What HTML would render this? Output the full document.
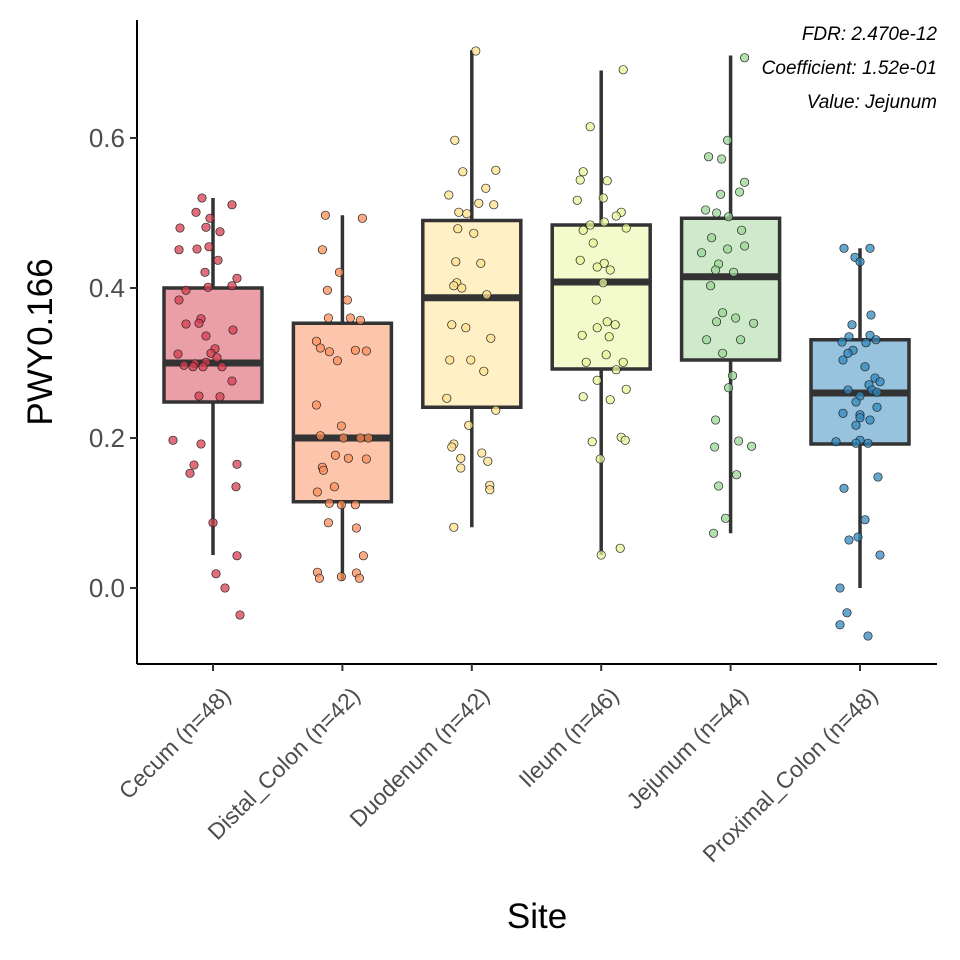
<!DOCTYPE html>
<html><head><meta charset="utf-8"><style>
body{margin:0;background:#fff}
svg{display:block;font-family:"Liberation Sans",sans-serif}
</style></head><body>
<svg id="chart" width="960" height="960">
</svg>
<script>
const categories=["Cecum (n=48)","Distal_Colon (n=42)","Duodenum (n=42)","Ileum (n=46)","Jejunum (n=44)","Proximal_Colon (n=48)"];
const q1=[0.248,0.115,0.241,0.292,0.304,0.192];
const median=[0.300,0.200,0.387,0.408,0.415,0.260];
const q3=[0.400,0.353,0.490,0.484,0.493,0.331];
const whiskerLow=[0.044,0.010,0.081,0.044,0.073,0.000];
const whiskerHigh=[0.520,0.497,0.717,0.690,0.710,0.453];
const yTicks=[0,0.2,0.4,0.6];
const yTickLabels=["0.0","0.2","0.4","0.6"];
const fills=["#ea9ea7","#fdc5ab","#fff0c5","#f3facb","#cfeacb","#98c3df"];
const pointColors=["#d53e4f","#fc8d59","#fee08b","#e6f598","#99d594","#3288bd"];
const ptsCecum=[0.52,0.511,0.501,0.493,0.481,0.475,0.48,0.455,0.452,0.451,0.437,0.421,0.413,0.403,0.401,0.397,0.384,0.359,0.352,0.353,0.344,0.336,0.319,0.313,0.307,0.312,0.301,0.299,0.297,0.295,0.295,0.295,0.276,0.255,0.256,0.197,0.192,0.165,0.164,0.153,0.135,0.087,0.043,0.019,0.0,-0.036];
const jitCecum=[-11,19,-17,-3,-7,7,-33,-4,-16,-34,5,-8,24,19,-5,-27,-34,-12,-27,-14,20,-7,2,-2,4,-35,-7,-18,-29,9,-20,-10,19,7,-14,-40,-12,24,-19,-23,23,0,24,3,12,27,-4];
const ptsDistal=[0.497,0.493,0.451,0.421,0.397,0.384,0.36,0.36,0.357,0.329,0.32,0.317,0.316,0.315,0.303,0.244,0.216,0.203,0.2,0.2,0.2,0.177,0.173,0.172,0.161,0.157,0.135,0.128,0.113,0.111,0.111,0.087,0.08,0.043,0.021,0.02,0.015,0.013,0.013];
const jitDistal=[-17,20,-20,-3,-15,5,-14,8,18,-26,-22,13,24,-13,-5,-26,-1,-22,1,18,26,-7,6,24,-20,-19,-8,-25,-13,-1,13,-14,14,21,-25,14,-1,-23,17];
const ptsDuod=[0.716,0.597,0.557,0.555,0.524,0.533,0.501,0.499,0.513,0.511,0.479,0.473,0.435,0.433,0.407,0.403,0.4,0.391,0.351,0.347,0.333,0.304,0.304,0.289,0.253,0.237,0.192,0.188,0.18,0.173,0.169,0.16,0.137,0.131,0.081,0.217];
const jitDuod=[4,-17,24,-9,-23,14,-13,-5,7,22,-14,2,-16,9,-15,-18,-10,15,-20,-6,19,-22,-1,12,-25,24,-18,-20,10,-11,16,-11,18,18,-18,-3];
const ptsIleum=[0.691,0.615,0.555,0.544,0.543,0.517,0.52,0.501,0.496,0.488,0.484,0.477,0.48,0.46,0.437,0.433,0.428,0.424,0.407,0.384,0.351,0.355,0.347,0.337,0.335,0.311,0.301,0.301,0.291,0.277,0.265,0.255,0.251,0.195,0.201,0.197,0.172,0.044,0.053];
const jitIleum=[22,-11,-18,-21,6,-24,2,20,15,3,-11,-18,25,-8,-21,3,-4,9,2,-5,14,6,-4,-19,8,5,-15,22,15,-4,25,-18,9,-9,20,24,-1,0,19];
const ptsJej=[0.707,0.597,0.575,0.572,0.541,0.525,0.528,0.504,0.5,0.495,0.477,0.467,0.456,0.452,0.447,0.432,0.421,0.424,0.403,0.367,0.36,0.355,0.353,0.331,0.331,0.313,0.283,0.267,0.224,0.196,0.188,0.189,0.151,0.136,0.093,0.073];
const jitJej=[14,-3,-22,-9,14,-10,9,-25,-14,-2,11,-19,14,-3,-29,-12,3,-15,-20,-8,5,-14,23,-24,10,-8,2,-2,-15,8,-16,21,6,-12,-5,-17];
const ptsProx=[0.453,0.453,0.441,0.435,0.364,0.351,0.337,0.331,0.335,0.328,0.327,0.317,0.313,0.304,0.295,0.28,0.275,0.271,0.264,0.261,0.264,0.256,0.248,0.241,0.233,0.231,0.227,0.224,0.217,0.197,0.195,0.193,0.193,0.148,0.133,0.064,0.068,0.091,0.044,0.0,-0.033,-0.049,-0.064];
const jitProx=[-16,10,-5,0,11,-8,10,16,-11,-18,6,-7,-12,-17,5,15,20,9,12,17,-12,0,-4,17,-17,0,0,10,-4,0,-24,8,-4,18,-16,-11,-2,5,20,-20,-13,-20,8];
const points=[ptsCecum,ptsDistal,ptsDuod,ptsIleum,ptsJej,ptsProx];
const jitter=[jitCecum,jitDistal,jitDuod,jitIleum,jitJej,jitProx];

const NS="http://www.w3.org/2000/svg";
const svg=document.getElementById("chart");
const L=137,R=937,T=20,B=664;
const y=v=>588-750*v;
const x=i=>213+i*129.4;
const BW=98;
function mk(tag,attrs,parent){const e=document.createElementNS(NS,tag);for(const k in attrs)e.setAttribute(k,attrs[k]);(parent||svg).appendChild(e);return e;}

for(let i=0;i<categories.length;i++){
  const g=mk("g",{});
  
  
  const cx=x(i);
  const w=mk("line",{x1:cx,x2:cx,y1:y(whiskerLow[i]),y2:y(whiskerHigh[i]),stroke:"#333",'stroke-width':3.5},g);
  
  
  const r=mk("rect",{x:cx-BW/2,y:y(q3[i]),width:BW,height:y(q1[i])-y(q3[i]),fill:fills[i],stroke:"#333",'stroke-width':3.5},g);
  
  
  const m=mk("line",{x1:cx-BW/2,x2:cx+BW/2,y1:y(median[i]),y2:y(median[i]),stroke:"#333",'stroke-width':7},g);
  
  
  points[i].forEach((v,j)=>{
    const c=mk("circle",{cx:cx+jitter[i][j],cy:y(v),r:4.2,fill:pointColors[i],'fill-opacity':0.75,stroke:"#222",'stroke-width':0.7},g);
    
    
  });
}
// axes
const ax=mk("line",{x1:L,x2:L,y1:T,y2:B,stroke:"#000",'stroke-width':2});


const xa=mk("line",{x1:L,x2:R,y1:B,y2:B,stroke:"#000",'stroke-width':2});


yTicks.forEach((v,i)=>{
  const t=mk("line",{x1:L-7,x2:L,y1:y(v),y2:y(v),stroke:"#333",'stroke-width':2});
  
  
  const l=mk("text",{x:L-12,y:y(v)+9,'text-anchor':'end','font-size':26,fill:"#4d4d4d"});
  l.textContent=yTickLabels[i];
  
  
});
categories.forEach((c,i)=>{
  const t=mk("line",{x1:x(i),x2:x(i),y1:B,y2:B+7,stroke:"#333",'stroke-width':2});
  
  
  const ox=x(i)+19, oy=B+33;
  const l=mk("text",{x:ox,y:oy,'text-anchor':'end','font-size':23,fill:"#4d4d4d",transform:`rotate(-45 ${ox} ${oy})`});
  l.textContent=c;
  
  
});
const yt=mk("text",{x:52,y:342,'text-anchor':'middle','font-size':35,fill:"#000",transform:"rotate(-90 52 342)"});
yt.textContent="PWY0.166";


const xt=mk("text",{x:537,y:928,'text-anchor':'middle','font-size':35,fill:"#000"});
xt.textContent="Site";


["FDR: 2.470e-12","Coefficient: 1.52e-01","Value: Jejunum"].forEach((s,i)=>{
  const a=mk("text",{x:937,y:40+i*34,'text-anchor':'end','font-size':19,'font-style':'italic',fill:"#000"});
  a.textContent=s;
  
  
});
</script>
</body></html>
